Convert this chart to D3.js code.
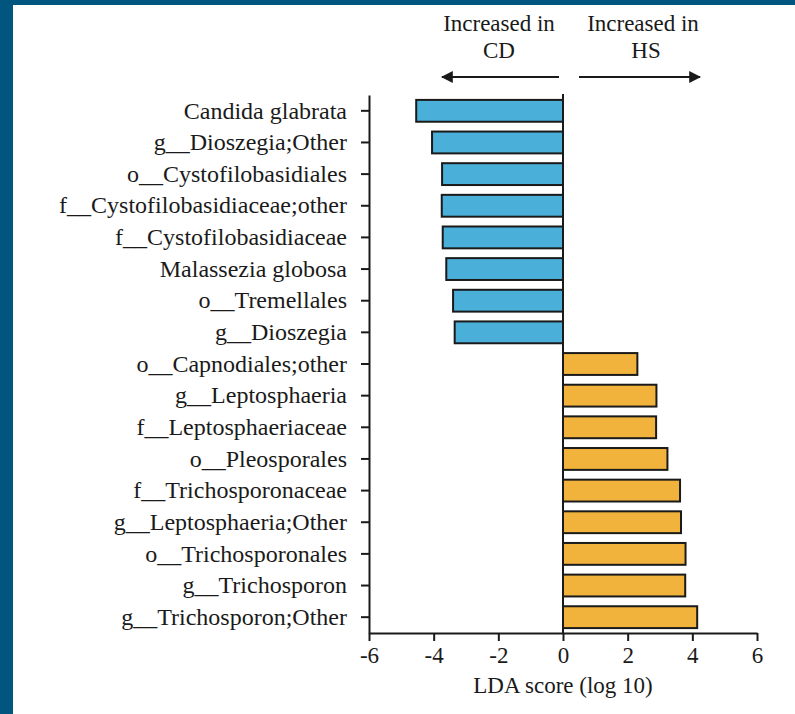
<!DOCTYPE html>
<html>
<head>
<meta charset='utf-8'>
<style>
body { margin: 0; background: #fff; }
svg { display: block; }
.axis path, .axis line { stroke: #1a1a1a; stroke-width: 2px; }
.bar { stroke: #1a1a1a; stroke-width: 2px; }
</style>
<script src='https://d3js.org/d3.v7.min.js'></script>
</head>
<body>
<svg id='chart1' width='795' height='714'></svg>
<script>
// taxa, top to bottom
var taxa = [
  'Candida glabrata',
  'g__Dioszegia;Other',
  'o__Cystofilobasidiales',
  'f__Cystofilobasidiaceae;other',
  'f__Cystofilobasidiaceae',
  'Malassezia globosa',
  'o__Tremellales',
  'g__Dioszegia',
  'o__Capnodiales;other',
  'g__Leptosphaeria',
  'f__Leptosphaeriaceae',
  'o__Pleosporales',
  'f__Trichosporonaceae',
  'g__Leptosphaeria;Other',
  'o__Trichosporonales',
  'g__Trichosporon',
  'g__Trichosporon;Other'
];
var ldaScores = [-4.54, -4.05, -3.74, -3.75, -3.72, -3.61, -3.40, -3.35,
  2.30, 2.89, 2.88, 3.23, 3.62, 3.65, 3.79, 3.78, 4.15];
var xTicks = [-6, -4, -2, 0, 2, 4, 6];

var serif = 'Liberation Serif';
var ink = '#1a1a1a';
var svg = d3.select('#chart1');

// frame
svg.append('rect').attr('x', 0).attr('y', 0).attr('width', 13).attr('height', 714).attr('fill', '#02557f');
svg.append('rect').attr('x', 0).attr('y', 0).attr('width', 795).attr('height', 5).attr('fill', '#02557f');

var x = d3.scaleLinear().domain([-6, 6]).range([369, 757]);
var y = d3.scaleBand().domain(taxa).range([95, 633]).paddingInner(0.31).paddingOuter(0.155);

var data = taxa.map(function(t, i) { return {name: t, value: ldaScores[i]}; });

svg.append('g').selectAll('rect').data(data).enter().append('rect')
  .attr('class', 'bar')
  .attr('x', function(d) { return x(Math.min(0, d.value)); })
  .attr('y', function(d) { return y(d.name); })
  .attr('width', function(d) { return Math.abs(x(d.value) - x(0)); })
  .attr('height', y.bandwidth())
  .attr('fill', function(d) { return d.value < 0 ? '#4aafd9' : '#f2b33c'; });

// zero line
svg.append('line')
  .attr('x1', x(0)).attr('x2', x(0))
  .attr('y1', 94).attr('y2', 633)
  .attr('stroke', ink).attr('stroke-width', 2);

var yAxis = svg.append('g').attr('class', 'axis')
  .attr('transform', 'translate(369,0)')
  .call(d3.axisLeft(y).tickSize(8).tickSizeOuter(0).tickPadding(14));
yAxis.attr('font-family', serif).attr('font-size', 24);
yAxis.selectAll('text').attr('fill', ink);

var xAxis = svg.append('g').attr('class', 'axis')
  .attr('transform', 'translate(0,633)')
  .call(d3.axisBottom(x).tickValues(xTicks).tickSize(8).tickSizeOuter(0).tickPadding(6)
    .tickFormat(function(d) { return String(d); }));
xAxis.attr('font-family', serif).attr('font-size', 23);
xAxis.selectAll('text').attr('fill', ink);

svg.append('text')
  .attr('x', x(0)).attr('y', 693)
  .attr('text-anchor', 'middle').attr('font-family', serif).attr('font-size', 23)
  .attr('fill', ink)
  .text('LDA score (log 10)');

// header
var defs = svg.append('defs');
defs.append('marker').attr('id', 'arrow')
  .attr('viewBox', '0 0 10 10').attr('refX', 9).attr('refY', 5)
  .attr('markerWidth', 6).attr('markerHeight', 6).attr('orient', 'auto')
  .append('path').attr('d', 'M0,0 L10,5 L0,10 z').attr('fill', ink);

var header = [
  {x: 499, y: 31, t: 'Increased in'},
  {x: 499, y: 58, t: 'CD'},
  {x: 643, y: 31, t: 'Increased in'},
  {x: 646, y: 58, t: 'HS'}
];
svg.append('g').selectAll('text').data(header).enter().append('text')
  .attr('x', function(d) { return d.x; })
  .attr('y', function(d) { return d.y; })
  .attr('text-anchor', 'middle').attr('font-family', serif).attr('font-size', 23)
  .attr('fill', ink)
  .text(function(d) { return d.t; });

svg.append('line').attr('x1', 559).attr('x2', 442).attr('y1', 77).attr('y2', 77)
  .attr('stroke', ink).attr('stroke-width', 2).attr('marker-end', 'url(#arrow)');
svg.append('line').attr('x1', 579).attr('x2', 700).attr('y1', 77).attr('y2', 77)
  .attr('stroke', ink).attr('stroke-width', 2).attr('marker-end', 'url(#arrow)');
</script>
</body>
</html>
